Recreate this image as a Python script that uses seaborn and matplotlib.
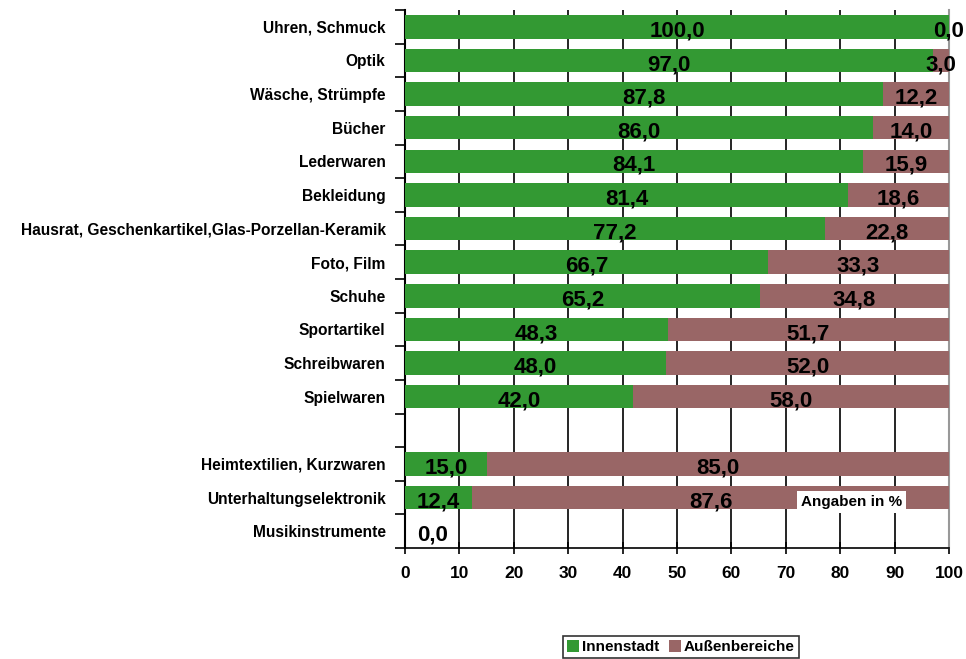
import matplotlib
matplotlib.use("Agg")
import matplotlib.pyplot as plt
from matplotlib.patches import Patch
from matplotlib.ticker import FixedLocator
import seaborn as sns
import pandas as pd

categories = [
    "Uhren, Schmuck", "Optik", "Wäsche, Strümpfe", "Bücher", "Lederwaren",
    "Bekleidung", "Hausrat, Geschenkartikel,Glas-Porzellan-Keramik",
    "Foto, Film", "Schuhe", "Sportartikel", "Schreibwaren", "Spielwaren",
    "Heimtextilien, Kurzwaren", "Unterhaltungselektronik", "Musikinstrumente",
]
innenstadt = [100.0, 97.0, 87.8, 86.0, 84.1, 81.4, 77.2, 66.7, 65.2, 48.3,
              48.0, 42.0, 15.0, 12.4, 0.0]
aussen = [0.0, 3.0, 12.2, 14.0, 15.9, 18.6, 22.8, 33.3, 34.8, 51.7,
          52.0, 58.0, 85.0, 87.6, 0.0]
x_ticks = [0, 10, 20, 30, 40, 50, 60, 70, 80, 90, 100]

# blank slot separating the two groups of the ranking
order = categories[:12] + [" "] + categories[12:]

GREEN = "#339933"
BROWN = "#996666"
FONT = ["Liberation Sans", "DejaVu Sans"]

df = pd.DataFrame({"Branche": categories, "Innenstadt": innenstadt,
                   "Außenbereiche": aussen})
df["Gesamt"] = df["Innenstadt"] + df["Außenbereiche"]

sns.set_theme(style="white")
plt.rcParams["font.family"] = FONT
plt.rcParams["font.weight"] = "bold"
plt.rcParams["text.color"] = "black"
plt.rcParams["xtick.color"] = "black"
plt.rcParams["ytick.color"] = "black"
plt.rcParams["xtick.labelcolor"] = "black"
plt.rcParams["ytick.labelcolor"] = "black"

fig = plt.figure(figsize=(9.66, 6.59), dpi=100)
ax = fig.add_axes([405 / 966, 1 - 548 / 659, 544 / 966, 538 / 659])

bar_kw = dict(order=order, saturation=1, width=0.7, orient="h", ax=ax,
              zorder=3, linewidth=0, edgecolor="none")
sns.barplot(data=df, y="Branche", x="Gesamt", color=BROWN, **bar_kw)
sns.barplot(data=df, y="Branche", x="Innenstadt", color=GREEN, **bar_kw)

ax.set_xlim(0, 100)
ax.set_ylim(len(order) - 0.5, -0.5)
ax.set_xlabel("")
ax.set_ylabel("")

# vertical grid
ax.grid(axis="x", color="black", linewidth=1.2, zorder=0)
ax.grid(axis="y", visible=False)
ax.set_axisbelow(True)

ax.set_xticks(x_ticks)
ax.set_xticklabels([str(t) for t in x_ticks], fontsize=12.5, fontweight="bold",
                   color="black")
ax.tick_params(axis="x", direction="inout", length=8, width=1.2, pad=9,
               colors="black", bottom=True)

ax.set_yticks(range(len(order)))
ax.set_yticklabels(order, fontsize=11.2, fontweight="bold", color="black")
ax.tick_params(axis="y", which="major", length=0, pad=14)
ax.yaxis.set_minor_locator(FixedLocator([i + 0.5 for i in range(-1, len(order))]))
ax.tick_params(axis="y", which="minor", direction="out", length=7, width=1.2,
               color="black", left=True)

ax.spines["top"].set_visible(False)
ax.spines["left"].set_color("black")
ax.spines["left"].set_linewidth(1.5)
ax.spines["bottom"].set_color("black")
ax.spines["bottom"].set_linewidth(1.2)
ax.spines["right"].set_color("#999999")
ax.spines["right"].set_linewidth(1.5)

# value labels
for cat, inn, aus in zip(categories, innenstadt, aussen):
    y = order.index(cat)
    label_kw = dict(fontsize=16, fontweight="bold", color="black",
                    va="center", zorder=5, textcoords="offset points")
    if inn + aus == 0:
        ax.annotate(f"{inn:.1f}".replace(".", ","), xy=(0, y), xytext=(9, -3),
                    ha="left", **label_kw)
        continue
    ax.annotate(f"{inn:.1f}".replace(".", ","), xy=(inn / 2, y), xytext=(0, -3),
                ha="center", **label_kw)
    ax.annotate(f"{aus:.1f}".replace(".", ","), xy=(inn + aus / 2, y),
                xytext=(0, -3), ha="center", **label_kw)

ax.text(801 / 966, 1 - 502 / 659, "Angaben in %", transform=fig.transFigure,
        fontsize=11, fontweight="bold", va="center", ha="left", zorder=6,
        color="black", bbox=dict(facecolor="white", edgecolor="none", pad=2.5))

handles = [Patch(facecolor=GREEN, edgecolor="none", label="Innenstadt"),
           Patch(facecolor=BROWN, edgecolor="none", label="Außenbereiche")]
leg = fig.legend(handles=handles, loc="center", bbox_to_anchor=(681 / 966, 1 - 647 / 659),
                 ncol=2, frameon=True, fancybox=False, fontsize=11,
                 handlelength=0.8, handleheight=0.8, handletextpad=0.2,
                 columnspacing=0.6, borderpad=0.25, borderaxespad=0)
leg.get_frame().set_edgecolor("black")
leg.get_frame().set_linewidth(1.2)
for t in leg.get_texts():
    t.set_fontweight("bold")
    t.set_color("black")

fig.savefig("out.png", dpi=100)
